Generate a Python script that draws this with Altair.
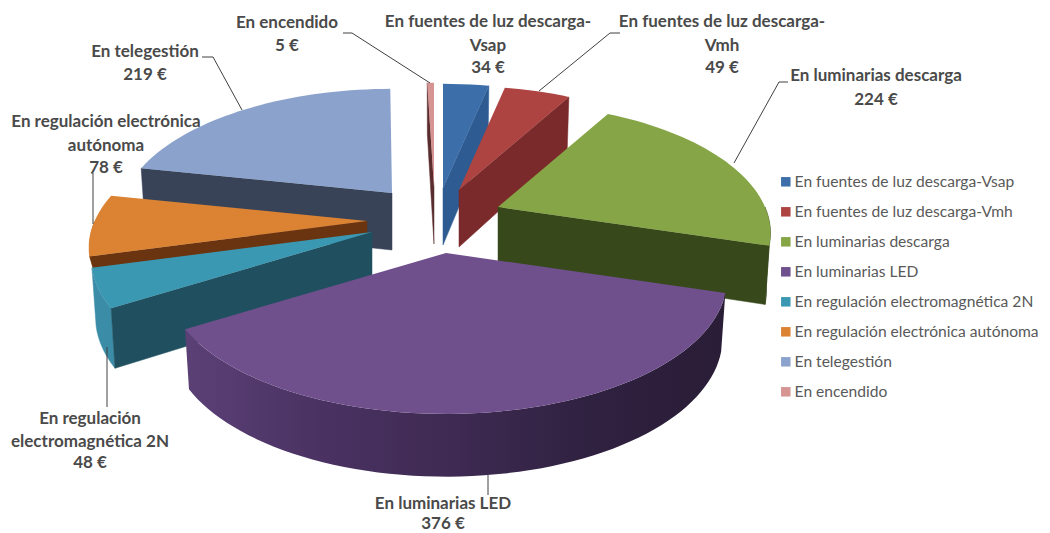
import math
import altair as alt

# ---- data ----
names = ["En fuentes de luz descarga-Vsap", "En fuentes de luz descarga-Vmh", "En luminarias descarga",
         "En luminarias LED", "En regulación electromagnética 2N", "En regulación electrónica autónoma",
         "En telegestión", "En encendido"]
values = [34, 49, 224, 376, 48, 78, 219, 5]
top_colors = ["#3c6fa9", "#ad4442", "#86a546", "#6f4f8c", "#3b98b2", "#dc8233", "#8ba3cc", "#d69492"]
cut_colors = ["#2d5b92", "#7b2a2b", "#37491b", "#2a1e38", "#20505f", "#6b3411", "#384358", "#5a2c2e"]
outer_colors = ["#2d5b92", "#7b2a2b", "#37491b", "#4a3262", "#3a8ca7", "#cf7a30", "#384358", "#5a2c2e"]
led_wall_colors = ["#5b4076", "#4a3262", "#3e2a52", "#2f2140", "#2a1d37"]

# label lines per slice (last line carries the value)
label_heads = [["En fuentes de luz descarga-", "Vsap"], ["En fuentes de luz descarga-", "Vmh"],
               ["En luminarias descarga"], ["En luminarias LED"],
               ["En regulación", "electromagnética 2N"], ["En regulación electrónica", "autónoma"],
               ["En telegestión"], ["En encendido"]]

# ---- layout (image pixels) ----
apex_x = [443, 459, 498, 446, 372, 367, 392, 434]
apex_y = [188, 190, 207, 253, 232, 221, 193, 187]
spread = [1.0, 1.0, 1.0, 1.03, 1.03, 1.02, 1.0, 1.0]
depth = [57, 57, 57, 57, 57, 14, 57, 57]
end_extend = [0, 0, 0, 0, 0, 0, 1.3, 0]
paint_order = [7, 0, 1, 6, 2, 5, 4, 3]
label_x = [488, 722, 876, 443, 90, 106, 145, 287]
label_y = [[22, 46, 68], [22, 46, 68], [76, 100], [504, 524], [419, 442, 463], [122, 146, 168], [52, 75], [23, 46]]
leaders = [[(343, 33), (352, 33), (430, 83)], [(202, 57), (213, 57), (242, 110)],
           [(91, 173), (93, 173), (93, 224)], [(620, 33), (610, 33), (539, 91)],
           [(788, 82), (779, 82), (734, 163)], [(107, 347), (107, 407)], [(488, 475), (488, 495)]]
R, Q, K = 267, 125, 0.2


def top_pt(i, deg):
    t = math.radians(deg)
    u, v = math.sin(t), -math.cos(t)
    s = spread[i] / (1 - K * v)
    return (apex_x[i] + R * u * s, apex_y[i] + Q * v * s)


def low_pt(i, deg):
    t = math.radians(deg)
    v = -math.cos(t)
    x, y = top_pt(i, deg)
    return (apex_x[i] + (x - apex_x[i]) * 0.985, y + depth[i] * (1 + 0.1 * v))


def poly(pts, fill=None, name=None):
    ring = [list(p) for p in pts] + [list(pts[0])]
    return {"type": "Feature", "geometry": {"type": "Polygon", "coordinates": [ring]},
            "properties": {"fill": fill, "name": name}}


total = sum(values)
bounds = [0]
for val in values:
    bounds.append(bounds[-1] + val / total * 360)

proj = dict(type="identity", scale=1, translate=[-8, -8])
scale = alt.Scale(domain=names, range=top_colors)
legend = alt.Legend(orient="none", legendX=770, legendY=166, symbolType="square", symbolSize=90,
                    symbolStrokeWidth=0, labelFont="Lato", labelFontSize=15.6, labelColor="#595959",
                    labelLimit=320, rowPadding=13, labelOffset=1, columns=1)
led_gradient = alt.Gradient(
    gradient="linear", x1=0, x2=1, y1=0, y2=0,
    stops=[alt.GradientStop(color=c, offset=j / (len(led_wall_colors) - 1)) for j, c in enumerate(led_wall_colors)],
)

layers = []
for i in paint_order:
    a0, a1 = bounds[i], bounds[i + 1] + end_extend[i]
    apex = (apex_x[i], apex_y[i])
    apex_low = (apex_x[i], apex_y[i] + depth[i])
    walls = []
    lo, hi = max(a0, 90), min(a1, 270)
    if hi > lo:
        n = max(2, int((hi - lo) / 2))
        deg = [lo + (hi - lo) * j / n for j in range(n + 1)]
        wall = poly([top_pt(i, d) for d in deg] + [low_pt(i, d) for d in reversed(deg)], outer_colors[i])
        if names[i] == "En luminarias LED":
            layers.append(alt.Chart(alt.Data(values=[wall])).mark_geoshape(fill=led_gradient, strokeWidth=0).project(**proj))
        else:
            walls.append(wall)
    if a0 > 180:
        walls.append(poly([apex, top_pt(i, a0), low_pt(i, a0), apex_low], cut_colors[i]))
    if a1 < 180:
        walls.append(poly([apex, top_pt(i, a1), low_pt(i, a1), apex_low], cut_colors[i]))
    if walls:
        layers.append(
            alt.Chart(alt.Data(values=walls)).mark_geoshape(strokeWidth=0.5).encode(
                fill=alt.Fill("properties.fill:N", scale=None, legend=None),
                stroke=alt.Stroke("properties.fill:N", scale=None, legend=None),
            ).project(**proj)
        )
    steps = max(2, int((a1 - a0) / 2))
    arc = [top_pt(i, a0 + (a1 - a0) * j / steps) for j in range(steps + 1)]
    top = poly([apex] + arc, None, names[i])
    layers.append(
        alt.Chart(alt.Data(values=[top])).mark_geoshape(strokeWidth=0).encode(
            color=alt.Color("properties.name:N", scale=scale, legend=legend, title=None)
        ).project(**proj)
    )

lines = [{"type": "Feature", "geometry": {"type": "LineString", "coordinates": [list(p) for p in l]},
          "properties": {}} for l in leaders]
layers.append(alt.Chart(alt.Data(values=lines)).mark_geoshape(filled=False, stroke="#404040", strokeWidth=1).project(**proj))

rows = []
for i, name in enumerate(names):
    texts = label_heads[i] + [f"{values[i]} €"]
    for txt, y in zip(texts, label_y[i]):
        rows.append({"t": txt, "x": label_x[i] - 8, "y": y - 8})
labels = alt.Chart(alt.Data(values=rows)).mark_text(
    font="Lato", fontSize=17, fontWeight="bold", color="#4a4a4a", align="center", baseline="middle"
).encode(x=alt.X("x:Q", scale=None, axis=None), y=alt.Y("y:Q", scale=None, axis=None), text="t:N")
layers.append(labels)

chart = alt.layer(*layers).properties(
    width=1034, height=525, padding=0, autosize=alt.AutoSizeParams(type="none"), background="white"
).configure_view(stroke=None)

chart.save("out.html", embed_options={"renderer": "svg", "actions": False})
